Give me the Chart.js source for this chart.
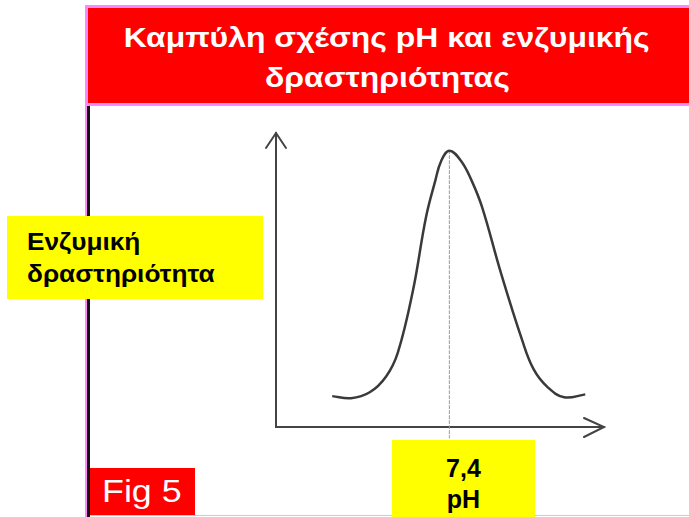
<!DOCTYPE html>
<html>
<head>
<meta charset="utf-8">
<script src="https://cdn.jsdelivr.net/npm/chart.js@4"></script>
<style>
  html, body { margin: 0; padding: 0; background: #fff; }
  body { width: 689px; height: 517px; position: relative; overflow: hidden; font-family: "Liberation Sans", Arial, sans-serif; }
  #c { position: absolute; left: 0; top: 0; }
  .box { position: absolute; box-sizing: border-box; }
  .wide { display: inline-block; transform: scaleX(1.14); }
  #title { left: 85px; top: 5px; width: 610px; height: 101px; background: #ff0000; border: 3px solid #ff88ff;
           color: #fff; font-weight: bold; font-size: 28px; line-height: 40px; text-align: center; padding: 10px 6px 0 0; }
  #title .wide { transform-origin: center; }
  #frameL { left: 85px; top: 106px; width: 2px; height: 411px; background: #ff88ff; }
  #frameB { left: 87px; top: 106px; width: 3px; height: 411px; background: #111; }
  #bottomLine { left: 90px; top: 515px; width: 599px; height: 1px; background: #ccc; }
  #ylab { left: 7px; top: 216px; width: 256px; height: 83px; background: #ffff00; font-weight: bold;
          font-size: 23px; line-height: 32px; padding: 10px 0 0 20px; color: #000; }
  #ylab .wide { transform-origin: left; }
  #xlab { left: 392px; top: 440px; width: 143px; height: 77px; background: #ffff00; font-weight: bold;
          font-size: 25px; line-height: 31px; text-align: center; padding: 13px 0 0 0; color: #000; }
  #fig { left: 90px; top: 468px; width: 105px; height: 47px; background: #ff0000; color: #fff;
         font-size: 32px; line-height: 47px; padding-left: 12px; }
  #fig .wide { transform-origin: left; transform: scaleX(1.12); }
</style>
</head>
<body>
<canvas id="c" width="689" height="517"></canvas>
<div class="box" id="title"><span class="wide">Καμπύλη σχέσης pH και ενζυμικής</span><br><span class="wide">δραστηριότητας</span></div>
<div class="box" id="frameL"></div>
<div class="box" id="frameB"></div>
<div class="box" id="bottomLine"></div>
<div class="box" id="ylab"><span class="wide">Ενζυμική</span><br><span class="wide">δραστηριότητα</span></div>
<div class="box" id="xlab">7,4<br>pH</div>
<div class="box" id="fig"><span class="wide">Fig 5</span></div>

<script>
// pH (x) and enzyme activity (y, arbitrary %)
const phValues = [2.4, 3.2, 4.0, 4.7, 5.2, 5.85, 6.4, 6.8, 7.05, 7.4, 7.9, 8.35, 8.8, 9.6, 10.5, 11.0, 11.6, 12.3, 13.2];
const activity = [10.5, 9.8, 11.8, 17.2, 25.3, 46.6, 71.3, 83.8, 90.5, 94, 90.5, 83.8, 74.7, 52.4, 29.7, 19.6, 13.5, 10.1, 11.1];
const optimumPh = 7.4;
const optimumActivity = 94;
const xRange = [0, 14];
const yRange = [0, 100];

const points = phValues.map((x, i) => ({ x: x, y: activity[i] }));

// hand-drawn style axes with open arrowheads + dotted line at the optimum
const sketchAxes = {
    id: 'sketchAxes',
    beforeDatasetsDraw(chart) {
        const { ctx, scales } = chart;
        const x0 = scales.x.getPixelForValue(xRange[0]);
        const x1 = scales.x.getPixelForValue(xRange[1]);
        const y0 = scales.y.getPixelForValue(yRange[0]);
        const y1 = scales.y.getPixelForValue(yRange[1]);
        ctx.save();
        ctx.strokeStyle = '#444';
        ctx.lineWidth = 2;
        ctx.lineCap = 'round';
        ctx.beginPath();
        ctx.moveTo(x0, y1);
        ctx.lineTo(x0, y0);
        ctx.lineTo(x1, y0);
        ctx.stroke();
        // arrowheads
        ctx.beginPath();
        ctx.moveTo(x0 - 10, y1 + 15);
        ctx.lineTo(x0, y1);
        ctx.lineTo(x0 + 10, y1 + 15);
        ctx.moveTo(x1 - 20, y0 - 9);
        ctx.lineTo(x1, y0);
        ctx.lineTo(x1 - 20, y0 + 10);
        ctx.stroke();
        // dotted optimum line
        const xp = scales.x.getPixelForValue(optimumPh);
        ctx.strokeStyle = '#999';
        ctx.lineWidth = 1;
        ctx.setLineDash([3, 2]);
        ctx.beginPath();
        ctx.moveTo(xp, scales.y.getPixelForValue(optimumActivity));
        ctx.lineTo(xp, y0 + 11);
        ctx.stroke();
        ctx.restore();
    }
};

new Chart(document.getElementById('c'), {
    type: 'line',
    data: {
        datasets: [{
            data: points,
            borderColor: '#3a3a3a',
            borderWidth: 2.5,
            pointRadius: 0,
            fill: false,
            tension: 0.4
        }]
    },
    options: {
        responsive: false,
        animation: false,
        events: [],
        layout: { padding: { left: 276, right: 85, top: 133, bottom: 90 } },
        plugins: { legend: { display: false }, tooltip: { enabled: false } },
        scales: {
            x: { type: 'linear', min: xRange[0], max: xRange[1], display: false },
            y: { type: 'linear', min: yRange[0], max: yRange[1], display: false }
        }
    },
    plugins: [sketchAxes]
});
</script>
</body>
</html>
